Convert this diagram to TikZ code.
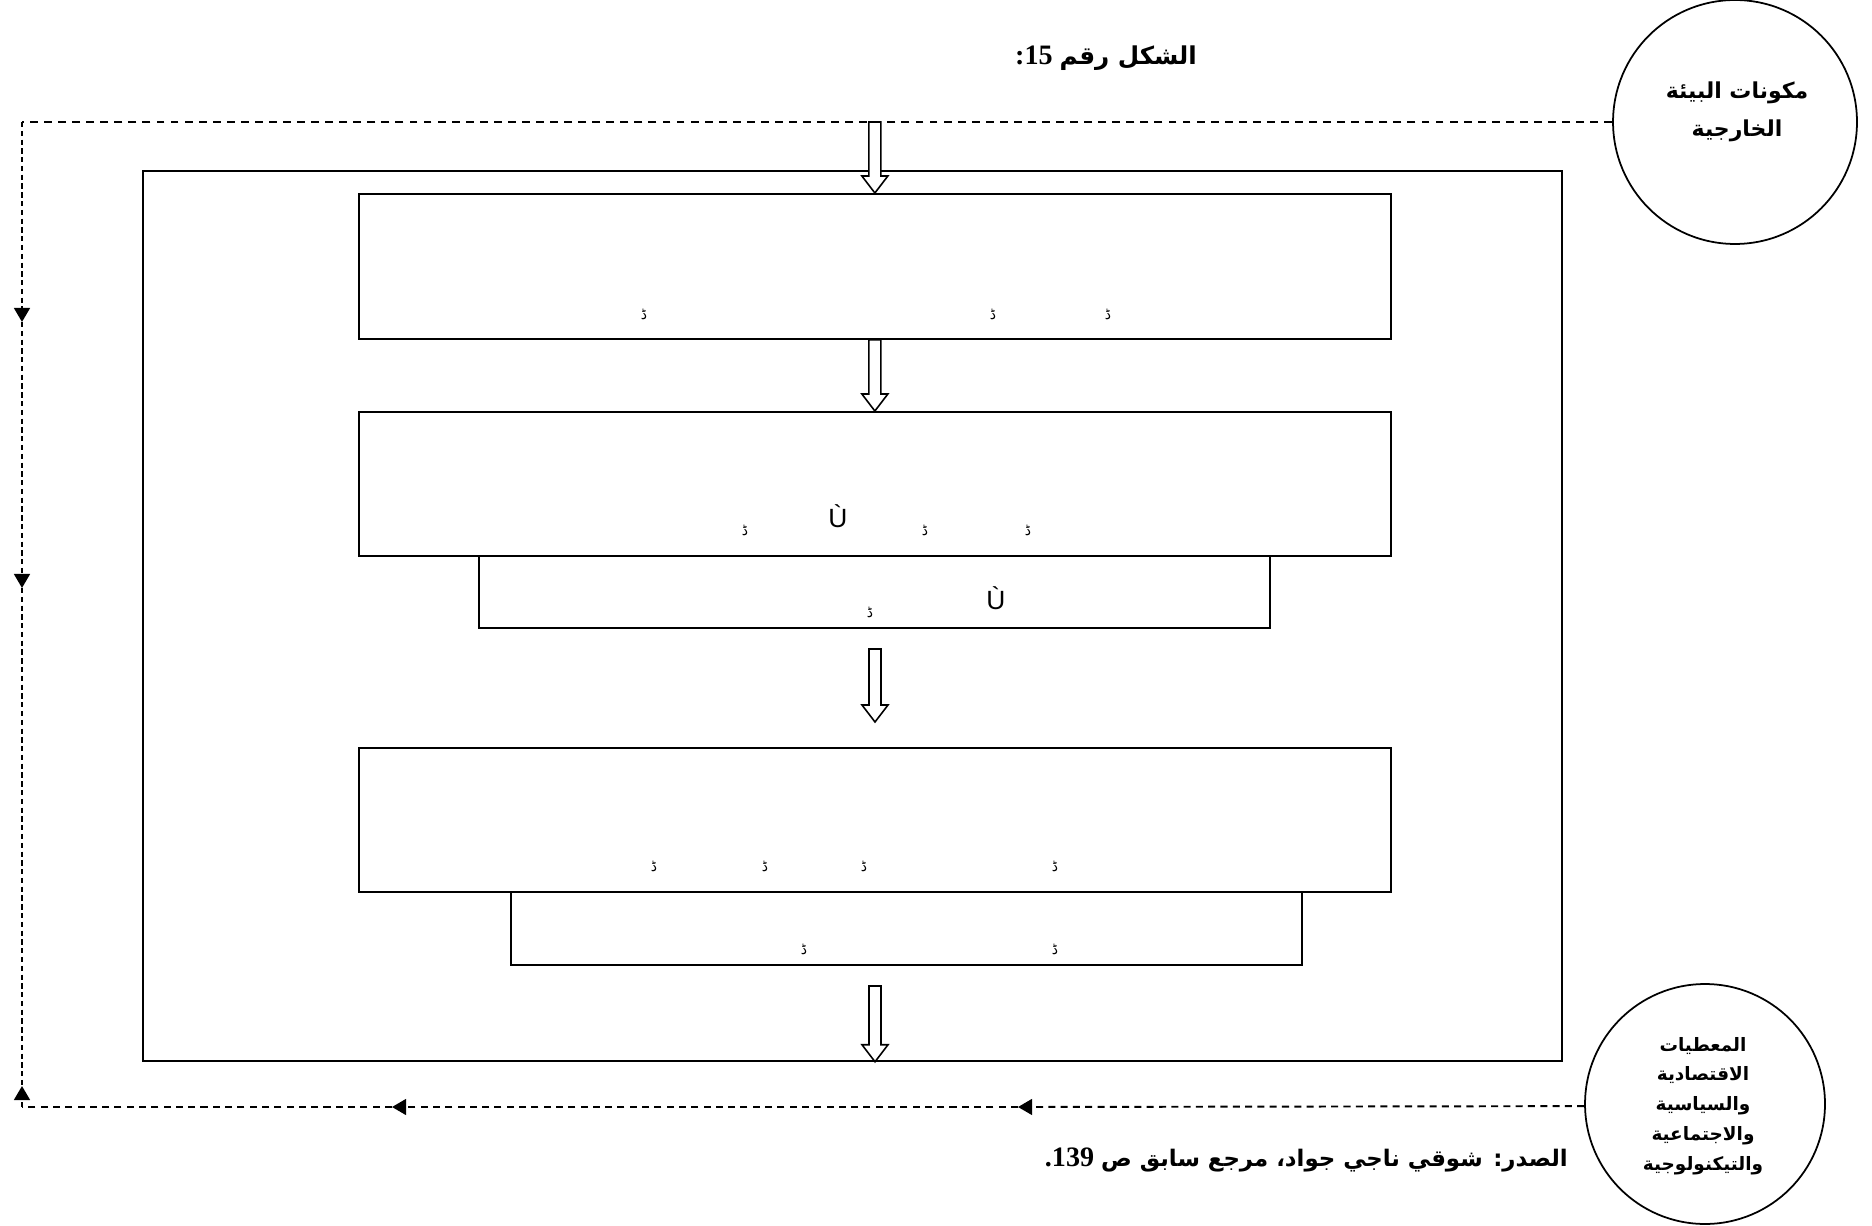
\documentclass[tikz,border=0pt]{standalone}
\usepackage{fontspec}
\setmainfont{Liberation Serif}
\newfontfamily\arabicfont[Script=Arabic]{DejaVu Sans}
\newfontfamily\latinsans{Liberation Sans}
\usetikzlibrary{calc}
\usetikzlibrary{positioning}
\usetikzlibrary{arrows.meta}
\TeXXeTstate=1

\begin{document}
\begin{tikzpicture}[x=0.02cm,y=-0.02cm,
  box/.style={draw, line width=1.1pt, inner sep=0pt, anchor=north west},
  envcircle/.style={draw, circle, line width=1pt, inner sep=0pt},
  circtext/.style={inner sep=0pt, align=center},
  blockarrow/.style={draw, fill=white, line width=0.9pt, line join=miter},
  fbtop/.style={line width=1.1pt, dash pattern=on 4.5pt off 3.5pt},
  fbleft/.style={line width=1.3pt, dash pattern=on 3pt off 2pt},
  fbbot/.style={line width=1.1pt, dash pattern=on 4pt off 3pt},
  tip/.style={-{Triangle[length=8pt,width=9pt]}},
  glyph/.style={inner sep=0pt, font=\arabicfont\fontsize{8}{9}\selectfont},
  ubig/.style={inner sep=0pt, font=\latinsans\fontsize{15}{18}\selectfont},
]
\newcommand\BlockArrow[2]{\draw [blockarrow] ($(#1)+(-6,0)$) -- ($(#2)+(-6,-17)$) -- ($(#2)+(-13,-17)$) -- (#2) -- ($(#2)+(13,-17)$) -- ($(#2)+(6,-17)$) -- ($(#1)+(6,0)$) -- cycle;}
\useasboundingbox (0,0) rectangle (1872,1226);

% frame and inner boxes
\node [box, minimum width=28.38cm, minimum height=17.8cm] (outer) at (142,170) {};
\node [box, minimum width=20.64cm, minimum height=2.9cm] (box1) at (358,193) {};
\node [box, minimum width=20.64cm, minimum height=2.88cm] (box2) at (358,411) {};
\node [box, minimum width=15.82cm, minimum height=1.44cm] (box2b) at (478,555) {};
\node [box, minimum width=20.64cm, minimum height=2.88cm] (box3) at (358,747) {};
\node [box, minimum width=15.82cm, minimum height=1.46cm] (box3b) at (510,891) {};

% circles
\node [envcircle, minimum size=4.88cm] (circ1) at (1735,122) {};
\node [circtext, font=\arabicfont\bfseries\fontsize{12.5}{22}\selectfont] (circ1text) at ($(circ1)+(2,-10)$)
  {\beginR مكونات البيئة\endR\\\beginR الخارجية\endR};
\node [envcircle, minimum size=4.8cm] (circ2) at (1705,1104) {};
\node [circtext, font=\arabicfont\bfseries\fontsize{10.5}{17}\selectfont] (circ2text) at ($(circ2)+(-2,2)$)
  {\beginR المعطيات\endR\\\beginR الاقتصادية\endR\\\beginR والسياسية\endR\\\beginR والاجتماعية\endR\\\beginR والتيكنولوجية\endR};

% title and source
\node [font=\bfseries\fontsize{16}{18}\selectfont] (title) at (1106,58)
  {:15 {\arabicfont\fontsize{14}{18}\selectfont\beginR الشكل رقم\endR}};
\node [anchor=east, font=\bfseries\fontsize{16}{18}\selectfont] (source) at (1574,1160)
  {.139 {\arabicfont\fontsize{13}{18}\selectfont\beginR الصدر: شوقي ناجي جواد، مرجع سابق ص\endR}};

% broken glyphs in the boxes
\foreach \x/\y [count=\i] in {644/314, 993/314, 1108/314, 745/530, 925/530, 1028/530, 870/612,
  654/866, 765/866, 864/866, 1055/866, 804/949, 1055/949}
  \node [glyph] (g\i) at (\x,\y) {ڈ};
\node [ubig] (u1) at (838,516) {Ù};
\node [ubig] (u2) at (996,598) {Ù};

% feedback loop
\coordinate (tl) at (22,122);
\coordinate (bl) at (22,1107);
\coordinate (lft1) at (22,322);
\coordinate (lft2) at (22,588);
\coordinate (up1) at (22,1086);
\coordinate (bot1) at (1018,1107);
\coordinate (bot2) at (392,1107);
\draw [fbtop] (circ1.west) -- (tl);
\draw [fbleft, tip] (tl) -- (lft1);
\draw [fbleft, tip] (lft1) -- (lft2);
\draw [fbleft] (lft2) -- (up1);
\draw [fbleft, tip] (bl) -- (up1);
\draw [fbbot, tip] (circ2.181) -- (bot1);
\draw [fbbot, tip] (bot1) -- (bot2);
\draw [fbbot] (bot2) -- (bl);

% block arrows
\coordinate (a0) at (box1.north |- tl);
\coordinate (a2s) at (875,649);
\coordinate (a2e) at (875,722);
\coordinate (a3s) at (875,986);
\coordinate (a3e) at (a3s |- outer.south);
\BlockArrow{a0}{box1.north}
\BlockArrow{box1.south}{box2.north}
\BlockArrow{a2s}{a2e}
\BlockArrow{a3s}{a3e}
\end{tikzpicture}
\end{document}
